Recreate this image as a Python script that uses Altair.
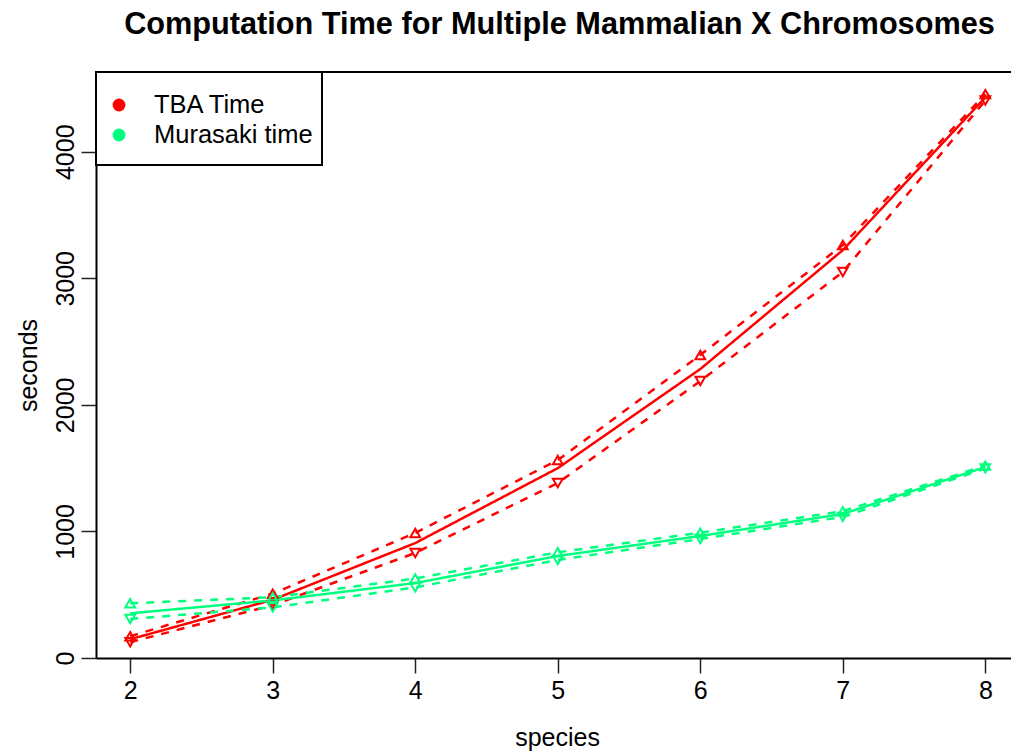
import altair as alt
import pandas as pd

species = [2, 3, 4, 5, 6, 7, 8]
tba_mean = [148, 460, 908, 1500, 2283, 3223, 4430]
tba_upper = [172, 508, 988, 1564, 2394, 3263, 4455]
tba_lower = [125, 418, 830, 1383, 2188, 3050, 4405]
mur_mean = [353, 455, 592, 806, 964, 1138, 1509]
mur_upper = [432, 480, 628, 835, 990, 1160, 1520]
mur_lower = [308, 400, 558, 775, 940, 1115, 1498]

series_names = ["TBA", "Murasaki"]
legend_labels = ["TBA Time", "Murasaki time"]
colors = ["#ff0000", "#00ff7f"]
x_ticks = [2, 3, 4, 5, 6, 7, 8]
y_ticks = [0, 1000, 2000, 3000, 4000]

rows = []
for name, m, u, l in [("TBA", tba_mean, tba_upper, tba_lower),
                      ("Murasaki", mur_mean, mur_upper, mur_lower)]:
    for s, a, b, c in zip(species, m, u, l):
        rows.append({"species": s, "value": a, "series": name, "kind": "mean"})
        rows.append({"species": s, "value": b, "series": name, "kind": "upper"})
        rows.append({"species": s, "value": c, "series": name, "kind": "lower"})
df = pd.DataFrame(rows)

FONT = "Liberation Sans"
FS = 25
W, H = 915, 586

xenc = alt.X("species:Q",
             scale=alt.Scale(domain=[1.76, 8.18], nice=False, zero=False),
             axis=alt.Axis(values=x_ticks, format="d", title="species", tickSize=15, tickWidth=1.5,
                           tickColor="#222", labelFontSize=FS, labelFont=FONT, labelColor="black",
                           labelPadding=5, domainWidth=2, domainColor="black", grid=False,
                           titleFontSize=FS, titleFont=FONT, titleFontWeight="normal",
                           titleColor="black", titleX=461, titleY=87,
                           titleBaseline="alphabetic", titleAnchor="middle", labelFlush=False))
yenc = alt.Y("value:Q",
             scale=alt.Scale(domain=[0, 4630], nice=False, zero=False),
             axis=alt.Axis(values=y_ticks, format="d", title="seconds", tickSize=15, tickWidth=1.5,
                           tickColor="#222", labelFontSize=FS, labelFont=FONT, labelColor="black",
                           labelAngle=270, labelAlign="center", labelBaseline="alphabetic",
                           labelPadding=8, domainWidth=2, domainColor="black", grid=False,
                           titleFontSize=FS, titleFont=FONT, titleFontWeight="normal",
                           titleColor="black", titleAngle=270, titleX=-60, titleY=293,
                           titleBaseline="alphabetic", titleAlign="center", labelFlush=False))
cenc = alt.Color("series:N", scale=alt.Scale(domain=series_names, range=colors), legend=None)

base = alt.Chart(df)

lines = base.mark_line(strokeWidth=2.5).encode(
    x=xenc, y=yenc, color=cenc,
    strokeDash=alt.StrokeDash("kind:N",
                              scale=alt.Scale(domain=["mean", "upper", "lower"],
                                              range=[[1, 0], [8, 8], [8, 8]]),
                              legend=None),
    detail="series:N",
    order=alt.Order("species:Q"),
)

points = base.transform_filter(alt.datum.kind != "mean").mark_point(
    filled=False, strokeWidth=2, size=95, opacity=1).encode(
    x=alt.X("species:Q"), y=alt.Y("value:Q"), color=cenc,
    shape=alt.Shape("kind:N", scale=alt.Scale(domain=["upper", "lower"],
                                               range=["triangle-up", "triangle-down"]),
                    legend=None),
)

one = pd.DataFrame({"a": [0]})
top_rule = alt.Chart(one).mark_rule(color="black", strokeWidth=2).encode(
    x=alt.value(0), x2=alt.value(W), y=alt.value(0))

leg_box = alt.Chart(one).mark_rect(fill="white", stroke="black", strokeWidth=2).encode(
    x=alt.value(0), x2=alt.value(226), y=alt.value(0), y2=alt.value(93))

leg_df = pd.DataFrame({"label": legend_labels, "series": series_names, "ypos": [33, 63]})
leg_pts = alt.Chart(leg_df).mark_circle(size=165, opacity=1).encode(
    x=alt.value(23), y=alt.Y("ypos:Q", scale=None), color=cenc)
leg_txt = alt.Chart(leg_df).mark_text(align="left", baseline="middle", fontSize=25.5,
                                      font=FONT, color="black").encode(
    x=alt.value(58), y=alt.Y("ypos:Q", scale=None), text="label:N")

chart = alt.layer(lines, points, top_rule, leg_box, leg_pts, leg_txt).properties(
    width=W, height=H,
    title=alt.TitleParams("Computation Time for Multiple Mammalian X Chromosomes",
                          fontSize=30.7, font=FONT, fontWeight="bold", anchor="middle",
                          color="black", dx=6, offset=30),
    autosize=alt.AutoSizeParams(type="none"),
    padding={"left": 96, "top": 72, "right": 0, "bottom": 95},
).configure_view(stroke=None).configure(background="white")

chart.save("out.html", embed_options={"renderer": "svg", "actions": False})
